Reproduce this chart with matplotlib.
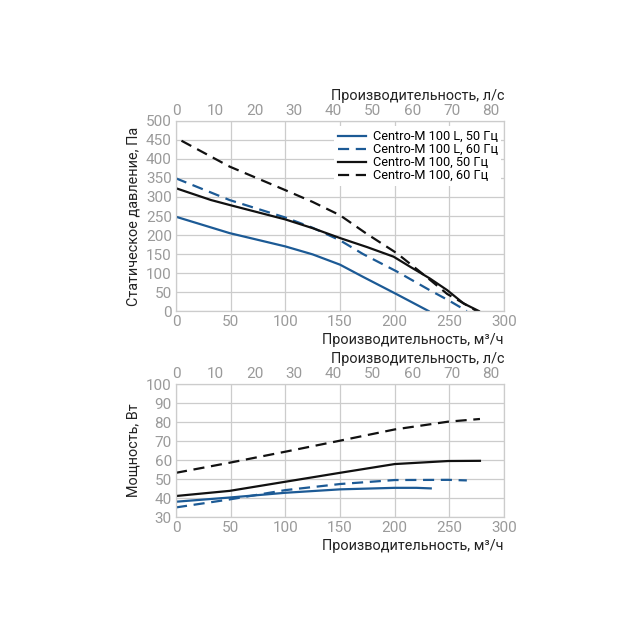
import matplotlib
matplotlib.use("Agg")
import matplotlib.pyplot as plt

plt.rcParams['font.family'] = ['Roboto', 'DejaVu Sans']

BLUE = '#1c5a95'
BLACK = '#111111'

labels = ["Centro-M 100 L, 50 Гц", "Centro-M 100 L, 60 Гц", "Centro-M 100, 50 Гц", "Centro-M 100, 60 Гц"]

# Pressure curves (m3/h, Pa)
p_l50_x = [0, 49, 100, 125, 150, 171, 202, 231]
p_l50_y = [248, 205, 170, 149, 122, 90, 44, 0]
p_l60_x = [0, 49, 100, 125, 150, 171, 202, 232, 250, 266]
p_l60_y = [349, 292, 246, 219, 186, 150, 104, 55, 27, 0]
p_m50_x = [0, 32, 49, 100, 125, 150, 175, 199, 215, 232, 248, 263, 277]
p_m50_y = [323, 292, 279, 241, 218, 192, 168, 143, 115, 86, 55, 20, 0]
p_m60_x = [5, 49, 100, 125, 150, 174, 202, 229, 248, 262, 275]
p_m60_y = [448, 380, 318, 287, 252, 204, 152, 90, 45, 22, 0]

# Power curves (m3/h, W)
w_l50_x = [0, 49, 100, 150, 200, 220, 233]
w_l50_y = [38.1, 40.3, 42.8, 44.6, 45.4, 45.4, 45.1]
w_l60_x = [0, 49, 100, 150, 200, 249, 266]
w_l60_y = [35.1, 39.3, 44.2, 47.4, 49.5, 49.6, 49.3]
w_m50_x = [0, 49, 100, 150, 200, 249, 278]
w_m50_y = [41.1, 43.8, 48.6, 53.3, 57.9, 59.5, 59.6]
w_m60_x = [0, 49, 100, 150, 200, 249, 278]
w_m60_y = [53.3, 58.6, 64.4, 70.2, 76.1, 80.2, 81.6]

styles = [(BLUE, '-'), (BLUE, (0, (5, 3))), (BLACK, '-'), (BLACK, (0, (5, 3)))]

fig = plt.figure(figsize=(6.4, 6.4), dpi=100)
ax1 = fig.add_axes([0.275, 0.514, 0.5125, 0.297])
ax2 = fig.add_axes([0.275, 0.192, 0.5125, 0.208])

TICKC = '#9a9a9a'
GRIDC = '#cccccc'
LABC = '#222222'
LFS = 10.4

def style(ax, ylim, yticks):
    ax.set_xlim(0, 300)
    ax.set_ylim(*ylim)
    ax.set_xticks(range(0, 301, 50))
    ax.set_yticks(yticks)
    ax.grid(True, color=GRIDC, linewidth=0.9)
    ax.set_axisbelow(True)
    for s in ax.spines.values():
        s.set_color(GRIDC)
        s.set_linewidth(0.9)
    ax.tick_params(colors=TICKC, labelsize=11, length=0, pad=3)
    ax.set_xlabel("Производительность, м³/ч", fontsize=LFS, color=LABC, loc='right', labelpad=3)
    sec = ax.secondary_xaxis('top', functions=(lambda x: x / 3.6, lambda x: x * 3.6))
    sec.set_xticks(range(0, 81, 10))
    sec.tick_params(colors=TICKC, labelsize=11, length=0, pad=2)
    for s in sec.spines.values():
        s.set_visible(False)
    sec.set_xlabel("Производительность, л/с", fontsize=LFS, color=LABC, loc='right', labelpad=3)

style(ax1, (0, 500), range(0, 501, 50))
style(ax2, (30, 100), range(30, 101, 10))

pdata = [(p_l50_x, p_l50_y), (p_l60_x, p_l60_y), (p_m50_x, p_m50_y), (p_m60_x, p_m60_y)]
wdata = [(w_l50_x, w_l50_y), (w_l60_x, w_l60_y), (w_m50_x, w_m50_y), (w_m60_x, w_m60_y)]

for (x, y), (c, ls), lab in zip(pdata, styles, labels):
    ax1.plot(x, y, color=c, linestyle=ls, linewidth=1.6, label=lab, solid_joinstyle='round')
for (x, y), (c, ls) in zip(wdata, styles):
    ax2.plot(x, y, color=c, linestyle=ls, linewidth=1.6, solid_joinstyle='round')

ax1.set_ylabel("Статическое давление, Па", fontsize=LFS, color=LABC, labelpad=4)
ax2.set_ylabel("Мощность, Вт", fontsize=LFS, color=LABC, labelpad=4)

leg = ax1.legend(loc='upper right', bbox_to_anchor=(1.0, 0.985), fontsize=9.2, frameon=True,
                 fancybox=False, edgecolor='none', facecolor='white', framealpha=1,
                 handlelength=2.2, handletextpad=0.5, labelspacing=0.0, borderpad=0.3,
                 borderaxespad=0.2)

fig.savefig("out.png", dpi=100, facecolor='white')
